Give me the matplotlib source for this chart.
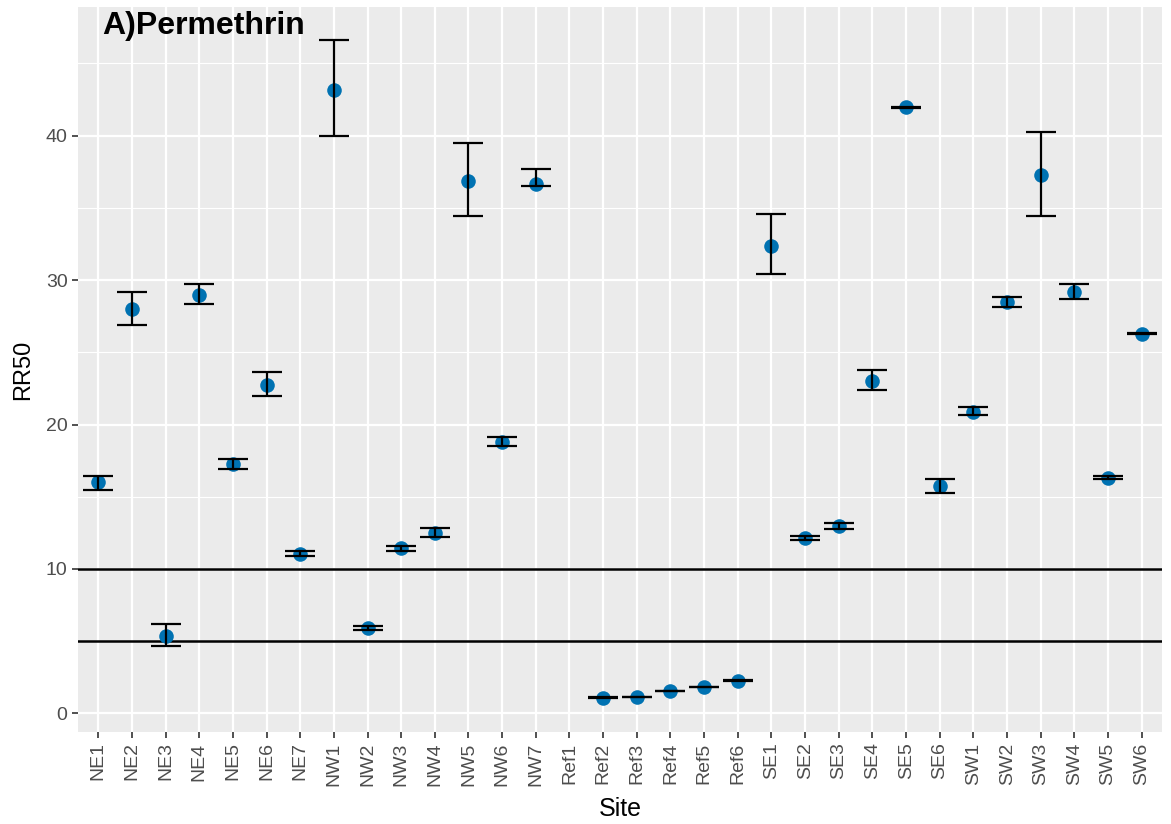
import numpy as np
import matplotlib
matplotlib.use("Agg")
import matplotlib.pyplot as plt
from matplotlib.ticker import MultipleLocator

plt.rcParams['font.family'] = ['Liberation Sans', 'DejaVu Sans']

# data
sites = ['NE1', 'NE2', 'NE3', 'NE4', 'NE5', 'NE6', 'NE7',
         'NW1', 'NW2', 'NW3', 'NW4', 'NW5', 'NW6', 'NW7',
         'Ref1', 'Ref2', 'Ref3', 'Ref4', 'Ref5', 'Ref6',
         'SE1', 'SE2', 'SE3', 'SE4', 'SE5', 'SE6',
         'SW1', 'SW2', 'SW3', 'SW4', 'SW5', 'SW6']

rr50 = [16.0, 28.0, 5.34, 28.97, 17.26, 22.75, 11.04,
        43.17, 5.91, 11.43, 12.52, 36.89, 18.78, 36.64,
        np.nan, 1.09, 1.15, 1.55, 1.82, 2.27,
        32.38, 12.15, 12.98, 23.03, 41.95, 15.73,
        20.9, 28.46, 37.24, 29.18, 16.33, 26.29]

lower = [15.5, 26.89, 4.64, 28.34, 16.9, 21.97, 10.9,
         39.99, 5.75, 11.25, 12.22, 34.44, 18.53, 36.52,
         np.nan, 1.04, 1.14, 1.54, 1.81, 2.22,
         30.42, 12.04, 12.77, 22.36, 41.92, 15.27,
         20.63, 28.11, 34.46, 28.67, 16.22, 26.27]

upper = [16.46, 29.15, 6.17, 29.71, 17.6, 23.65, 11.25,
         46.62, 6.07, 11.62, 12.87, 39.48, 19.15, 37.7,
         np.nan, 1.13, 1.16, 1.56, 1.83, 2.31,
         34.56, 12.29, 13.19, 23.79, 41.98, 16.22,
         21.23, 28.85, 40.24, 29.73, 16.45, 26.31]

thresholds = [10, 5]

x = np.arange(1, len(sites) + 1)
rr50 = np.array(rr50)
lower = np.array(lower)
upper = np.array(upper)

fig = plt.figure(figsize=(11.71, 8.24), dpi=100)
ax = fig.add_axes([0.0666, 0.1117, 0.9257, 0.8798])

ax.set_facecolor('#EBEBEB')
for s in ax.spines.values():
    s.set_visible(False)

# grid like ggplot
ax.set_axisbelow(True)
ax.yaxis.set_major_locator(MultipleLocator(10))
ax.yaxis.set_minor_locator(MultipleLocator(5))
ax.grid(which='major', color='white', linewidth=1.6)
ax.grid(which='minor', axis='y', color='white', linewidth=0.8)
ax.tick_params(which='minor', length=0)

ax.axhline(thresholds[0], color='black', linewidth=1.8, zorder=2)
ax.axhline(thresholds[1], color='black', linewidth=1.8, zorder=2)

ax.scatter(x, rr50, s=110, color='#0072B2', zorder=3, linewidths=0)
ax.errorbar(x, rr50, yerr=[rr50 - lower, upper - rr50], fmt='none',
            ecolor='black', elinewidth=1.6, capsize=10.8, capthick=1.6, zorder=4)

ax.set_xlim(0.4, len(sites) + 0.6)
ax.set_ylim(-1.28, 48.9)
ax.set_xticks(x)
ax.set_xticklabels(sites, rotation=90)
ax.tick_params(axis='both', colors='#333333', labelcolor='#4D4D4D',
               labelsize=14, length=4, width=1.2)

ax.set_xlabel('Site', fontsize=18, labelpad=8)
ax.set_ylabel('RR50', fontsize=17, labelpad=8)

ax.text(0.022, 0.995, 'A)Permethrin', transform=ax.transAxes,
        fontsize=23, fontweight='bold', ha='left', va='top')

fig.savefig('out.png', dpi=100)
